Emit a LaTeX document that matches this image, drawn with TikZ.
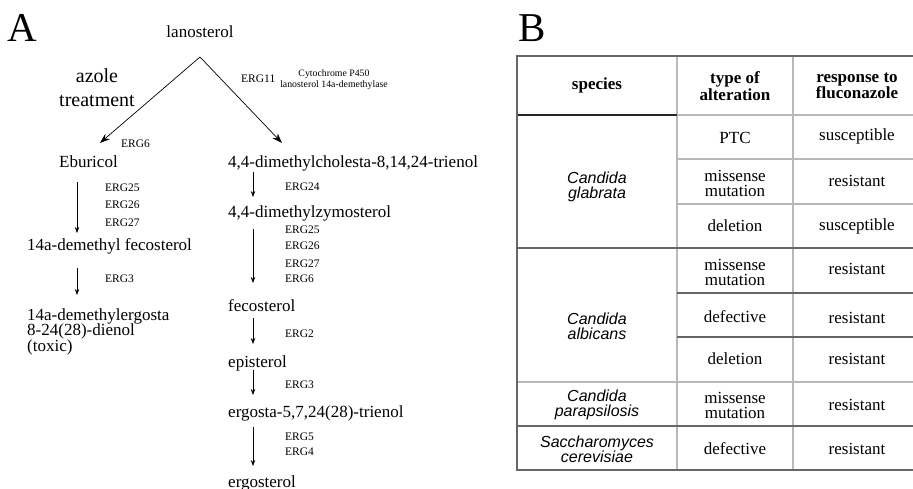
\documentclass[tikz,border=0pt]{standalone}
\usepackage{fontspec}
\setmainfont{Liberation Serif}
\newfontfamily\spfont{Liberation Sans}
\usetikzlibrary{arrows.meta}
\begin{document}
\begin{tikzpicture}[x=1pt,y=-1pt,
  mol/.style={font=\fontsize{17}{15}\selectfont, inner sep=0pt, anchor=base west, align=left},
  enz/.style={font=\fontsize{11.5}{13}\selectfont, inner sep=0pt, anchor=base west},
  tiny/.style={font=\fontsize{9.8}{11}\selectfont, inner sep=0pt, anchor=base},
  big/.style={font=\fontsize{41}{41}\selectfont, inner sep=0pt, anchor=base west},
  flow/.style={-{Stealth[length=6pt,width=4.5pt]}, line width=0.7pt},
  bigflow/.style={-{Stealth[length=10pt,width=7pt]}, line width=0.7pt},
  cell/.style={font=\fontsize{17}{15}\selectfont, inner sep=0pt, align=center},
  head/.style={font=\fontsize{17}{15}\selectfont\bfseries, inner sep=0pt, align=center},
  sp/.style={font=\fontsize{16}{15}\selectfont\spfont\itshape, inner sep=0pt, align=center},
  dk/.style={draw=black!60, line width=1.3pt},
  lt/.style={draw=black!28, line width=2pt},
  hd/.style={draw=black!85, line width=1.4pt}]
\useasboundingbox (0,0) rectangle (913,489);

% ---------- Panel A ----------
\node[big] (labA) at (7,42) {A};
\node[font=\fontsize{17}{15}\selectfont, inner sep=0pt, anchor=base] (lano) at (200,38) {lanosterol};
\node[font=\fontsize{20}{24}\selectfont, inner sep=0pt, anchor=base] (azole) at (97,83) {azole};
\node[font=\fontsize{20}{24}\selectfont, inner sep=0pt, anchor=base] (treat) at (97,107) {treatment};
\node[enz] (erg11) at (241,83) {ERG11};
\node[tiny] (cyt1) at (334,77) {Cytochrome P450};
\node[tiny] (cyt2) at (334,88) {lanosterol 14a-demethylase};

\coordinate (apex) at (200,57);
\coordinate (tipL) at (100,143);
\coordinate (tipR) at (282,143);
\draw[bigflow] (apex) -- (tipL);
\draw[bigflow] (apex) -- (tipR);

% left branch
\node[enz] (erg6a) at (121,148) {ERG6};
\node[mol] (ebu) at (59,168) {Eburicol};
\node[enz] (e25a) at (105,192) {ERG25};
\node[enz] (e26a) at (105,209) {ERG26};
\node[enz] (e27a) at (105,227) {ERG27};
\node[mol] (dfec) at (27,251) {14a-demethyl fecosterol};
\node[enz] (e3a) at (105,283) {ERG3};
\node[mol] (dien1) at (27,320) {14a-demethylergosta};
\node[mol] (dien2) at (27,335) {8-24(28)-dienol};
\node[mol] (dien3) at (27,351) {(toxic)};

\coordinate (l1s) at (77,182); \coordinate (l1e) at (77,233);
\coordinate (l2s) at (77,268); \coordinate (l2e) at (77,295);
\draw[flow] (l1s) -- (l1e);
\draw[flow] (l2s) -- (l2e);

% right branch
\node[mol] (dmc) at (228,168) {4,4-dimethylcholesta-8,14,24-trienol};
\node[enz] (e24) at (285,191) {ERG24};
\node[mol] (dmz) at (228,218) {4,4-dimethylzymosterol};
\node[enz] (e25b) at (285,234) {ERG25};
\node[enz] (e26b) at (285,250) {ERG26};
\node[enz] (e27b) at (285,267) {ERG27};
\node[enz] (e6b) at (285,283) {ERG6};
\node[mol] (fec) at (228,311) {fecosterol};
\node[enz] (e2) at (285,337) {ERG2};
\node[mol] (epi) at (228,367) {episterol};
\node[enz] (e3b) at (285,388) {ERG3};
\node[mol] (erga) at (228,417) {ergosta-5,7,24(28)-trienol};
\node[enz] (e5) at (285,440) {ERG5};
\node[enz] (e4) at (285,455) {ERG4};
\node[mol] (ergo) at (228,487) {ergosterol};

\coordinate (r1s) at (253,172); \coordinate (r1e) at (253,197);
\coordinate (r2s) at (253,229); \coordinate (r2e) at (253,283);
\coordinate (r3s) at (253,318); \coordinate (r3e) at (253,344);
\coordinate (r4s) at (253,370); \coordinate (r4e) at (253,395);
\coordinate (r5s) at (253,427); \coordinate (r5e) at (253,466);
\draw[flow] (r1s) -- (r1e);
\draw[flow] (r2s) -- (r2e);
\draw[flow] (r3s) -- (r3e);
\draw[flow] (r4s) -- (r4e);
\draw[flow] (r5s) -- (r5e);

% ---------- Panel B ----------
\node[big] (labB) at (518,42) {B};

% inner light lines
\draw[lt] (677,56) -- (677,470);
\draw[lt] (793,56) -- (793,470);
\draw[lt] (677,115) -- (913,115);
\draw[lt] (677,159) -- (913,159);
\draw[lt] (677,204) -- (913,204);
\draw[lt] (517,382) -- (913,382);
% darker lines
\draw[dk] (677,293) -- (913,293);
\draw[dk] (677,337) -- (913,337);
\draw[dk] (517,248) -- (913,248);
\draw[dk] (517,426) -- (913,426);
\draw[hd] (517,115) -- (677,115);
% outer border
\draw[dk] (913,56) -- (517,56) -- (517,470) -- (913,470);

% header
\node[head] (hsp) at (597,85) {species};
\node[head] (hty) at (735,86) {type of\\alteration};
\node[head] (hre) at (857,86) {response to\\fluconazole};

% species
\node[sp] (sgl) at (597,187) {Candida\\glabrata};
\node[sp] (sal) at (597,326) {Candida\\albicans};
\node[sp] (spa) at (597,405) {Candida\\parapsilosis};
\node[sp] (ssc) at (597,449) {Saccharomyces\\cerevisiae};

% alteration column
\node[cell] (a1) at (735,138) {PTC};
\node[cell] (a2) at (735,183) {missense\\mutation};
\node[cell] (a3) at (735,226) {deletion};
\node[cell] (a4) at (735,272) {missense\\mutation};
\node[cell] (a5) at (735,317) {defective};
\node[cell] (a6) at (735,359) {deletion};
\node[cell] (a7) at (735,405) {missense\\mutation};
\node[cell] (a8) at (735,449) {defective};

% response column
\node[cell] (r1) at (857,136) {susceptible};
\node[cell] (r2) at (857,181) {resistant};
\node[cell] (r3) at (857,226) {susceptible};
\node[cell] (rr4) at (857,269) {resistant};
\node[cell] (rr5) at (857,318) {resistant};
\node[cell] (rr6) at (857,359) {resistant};
\node[cell] (rr7) at (857,405) {resistant};
\node[cell] (rr8) at (857,449) {resistant};
\end{tikzpicture}
\end{document}
